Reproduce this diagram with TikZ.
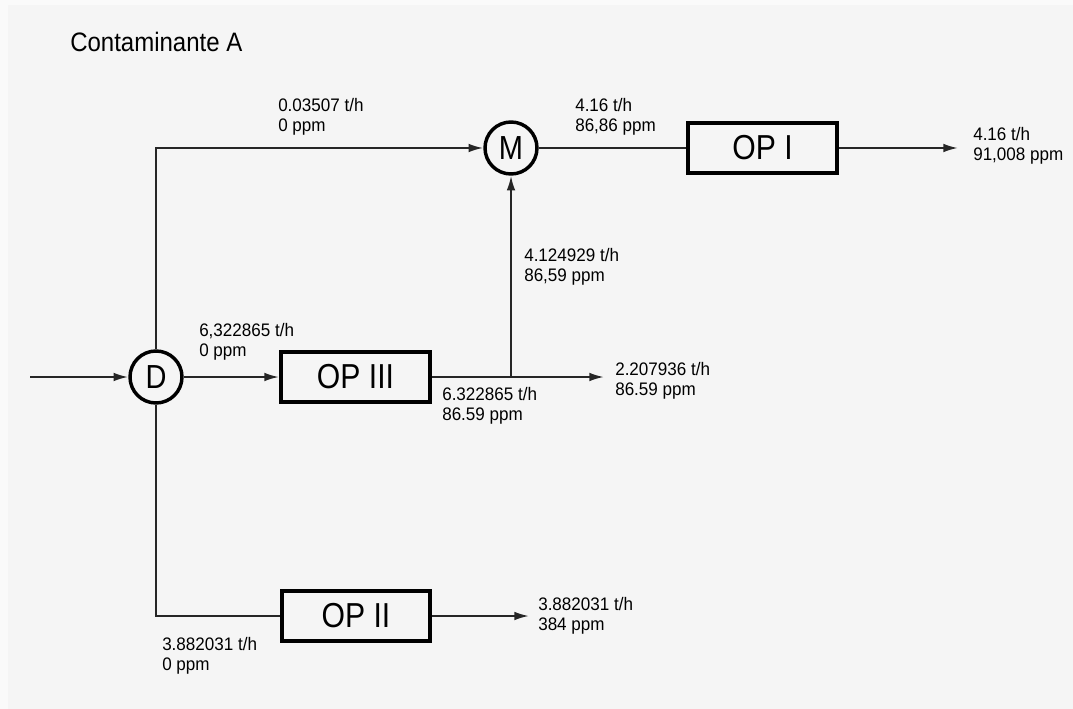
\documentclass[tikz,border=0pt]{standalone}
\usepackage{fontspec}
\setmainfont{Liberation Sans}
\newfontfamily\unitfont{Liberation Sans}[FakeStretch=0.87]
\newfontfamily\flowfont{Liberation Sans}[FakeStretch=0.94]
\newfontfamily\headfont{Liberation Sans}[FakeStretch=0.9]
\usetikzlibrary{arrows.meta, positioning}

\begin{document}
\begin{tikzpicture}[
        x=0.75pt, y=-0.75pt,
        unit/.style={
            rectangle,
            draw=black,
            line width=3.2pt,
            minimum width=111.5pt,
            minimum height=37.5pt,
            inner sep=0pt,
            font=\unitfont\fontsize{26}{28}\selectfont
        },
        junction/.style={
            circle,
            draw=black,
            line width=2.6pt,
            minimum size=39pt,
            inner sep=0pt,
            font=\unitfont\fontsize{25}{28}\selectfont
        },
        flow/.style={
            anchor=north west,
            inner sep=0pt,
            align=left,
            font=\flowfont\fontsize{13.6}{15}\selectfont
        },
        heading/.style={
            anchor=north west,
            inner sep=0pt,
            font=\headfont\fontsize{20}{22}\selectfont
        },
        line/.style={
            line width=1.5pt,
            black!85
        },
        arrow/.style={
            line,
            -{Latex[length=11pt, width=6.5pt]}
        }
    ]
    % Background
    \fill[black!2] (0,0) rectangle (1073,709);
    \fill[black!4] (8,5) rectangle (1073,709);
    \useasboundingbox (0,0) rectangle (1073,709);

    \node[heading] (title) at (70,32) {Contaminante A};

    % Splitter, mixer and operations
    \node[junction] (D)   at (156,377)   {D};
    \node[junction] (M)   at (511,148)   {M};
    \node[unit]     (op1) at (762.5,148) {OP I};
    \node[unit]     (op3) at (355.5,377) {OP III};
    \node[unit]     (op2) at (356,616)   {OP II};

    % Free ends
    \coordinate (feed) at (30,377);
    \coordinate (out1) at (958,148);
    \coordinate (out3) at (604,377);
    \coordinate (out2) at (529,616);

    % Streams
    \draw[arrow] (feed) -- (D);
    \draw[arrow] (D) -- (op3);
    \draw[arrow] (D.north) |- (M.west);
    \draw[line]  (D.south) |- (op2.west);
    \draw[arrow] (op3.east) -- (out3);
    \draw[arrow] (op3.east -| M.south) -- (M.south);
    \draw[line]  (M) -- (op1);
    \draw[arrow] (op1) -- (out1);
    \draw[arrow] (op2) -- (out2);

    % Stream labels
    \node[flow] (l1) at (278,98)  {0.03507 t/h\\0 ppm};
    \node[flow] (l2) at (575,98)  {4.16 t/h\\86,86 ppm};
    \node[flow] (l3) at (973,127) {4.16 t/h\\91,008 ppm};
    \node[flow] (l4) at (524,248) {4.124929 t/h\\86,59 ppm};
    \node[flow] (l5) at (199,323) {6,322865 t/h\\0 ppm};
    \node[flow] (l6) at (615,362) {2.207936 t/h\\86.59 ppm};
    \node[flow] (l7) at (442,387) {6.322865 t/h\\86.59 ppm};
    \node[flow] (l8) at (538,597) {3.882031 t/h\\384 ppm};
    \node[flow] (l9) at (162,637) {3.882031 t/h\\0 ppm};

\end{tikzpicture}
\end{document}
